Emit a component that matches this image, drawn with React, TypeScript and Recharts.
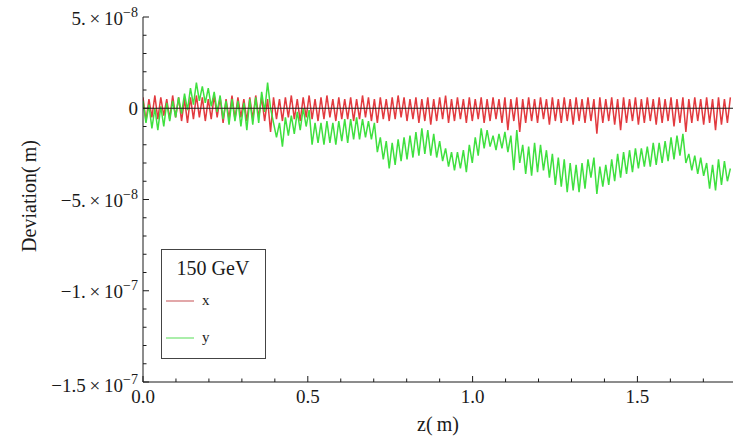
import { Legend, Line, LineChart, ReferenceLine, XAxis, YAxis } from "recharts";

// sampling step along z (m); values alternate crest / trough
const Z_STEP = 0.009;

// transverse deviation in x, units of 1e-9 m
const DEV_X = [
  6, -7, 5, -5, 7, -6, 6, -4, 5, -6,
  7, -5, 6, -7, 5, -8, 6, -6, 7, -5,
  6, -7, 5, -6, 7, -5, 6, -8, 5, -6,
  7, -6, 6, -5, 5, -7, 6, -6, 7, -5,
  6, -7, 5, -13, 6, -6, 5, -7, 6, -5,
  7, -6, 5, -7, 6, -5, 7, -6, 5, -7,
  6, -6, 7, -5, 5, -7, 6, -6, 5, -6,
  6, -7, 5, -6, 7, -5, 6, -7, 5, -8,
  6, -6, 5, -7, 6, -6, 7, -5, 6, -7,
  5, -6, 6, -8, 5, -7, 6, -9, 5, -7,
  6, -6, 7, -8, 5, -7, 6, -6, 5, -8,
  6, -7, 5, -6, 6, -8, 5, -7, 6, -6,
  5, -8, 6, -12, 5, -7, 6, -13, 5, -8,
  6, -7, 5, -8, 6, -6, 5, -9, 6, -7,
  5, -8, 6, -7, 5, -9, 6, -7, 5, -8,
  6, -7, 5, -14, 6, -8, 5, -7, 6, -9,
  5, -12, 6, -8, 5, -7, 6, -9, 5, -8,
  6, -7, 5, -9, 6, -8, 5, -7, 6, -10,
  5, -8, 6, -13, 5, -8, 6, -7, 5, -9,
  6, -8, 5, -12, 6, -9, 5, -8, 6,
];

// transverse deviation in y, units of 1e-9 m
const DEV_Y = [
  4, -8, 2, -11, 0, -12, 1, -10, 3, -7,
  4, -5, 6, -3, 8, -1, 11, 2, 14, 4,
  12, 3, 11, 1, 9, -2, 7, -6, 4, -9,
  5, -7, 4, -10, 3, -12, 5, -9, 6, -8,
  9, -2, 14, 0, -8, -16, -8, -21, -5, -15,
  -4, -14, -2, -12, 0, -10, -1, -20, -8, -19,
  -8, -20, -7, -19, -8, -20, -7, -18, -6, -19,
  -6, -17, -5, -17, -6, -16, -7, -17, -8, -24,
  -16, -28, -18, -33, -19, -31, -17, -29, -16, -28,
  -15, -27, -13, -26, -11, -25, -12, -26, -14, -27,
  -18, -29, -22, -32, -24, -34, -24, -33, -23, -35,
  -20, -30, -16, -26, -11, -22, -12, -21, -15, -23,
  -14, -22, -13, -24, -15, -34, -12, -30, -20, -36,
  -21, -37, -19, -35, -20, -34, -23, -38, -25, -42,
  -27, -43, -28, -46, -30, -45, -31, -46, -30, -44,
  -28, -38, -27, -47, -32, -43, -31, -42, -28, -40,
  -25, -38, -24, -36, -23, -35, -22, -33, -22, -32,
  -21, -32, -19, -31, -19, -30, -18, -29, -16, -28,
  -15, -26, -14, -30, -25, -34, -26, -36, -27, -37,
  -30, -44, -31, -45, -28, -42, -29, -40, -33,
];

const Z_TICKS = [0, 0.1, 0.2, 0.3, 0.4, 0.5, 0.6, 0.7, 0.8, 0.9, 1.0, 1.1, 1.2, 1.3, 1.4, 1.5, 1.6, 1.7];
const Z_LABELS: Record<number, string> = { 0: "0.0", 5: "0.5", 10: "1.0", 15: "1.5" };

// tick positions in units of 1e-9 m
const DEV_TICKS = [-150, -140, -130, -120, -110, -100, -90, -80, -70, -60, -50, -40, -30, -20, -10, 0, 10, 20, 30, 40, 50];
// [mantissa, exponent, baseline shift]
const DEV_LABELS: Record<number, [string, string, number]> = {
  50: ["5.\u2009\u00d7\u200910", "\u22128", 8],
  0: ["0", "", 7],
  [-50]: ["\u22125.\u2009\u00d7\u200910", "\u22128", 7],
  [-100]: ["\u22121.\u2009\u00d7\u200910", "\u22127", 7],
  [-150]: ["\u22121.5\u2009\u00d7\u200910", "\u22127", 10],
};

const SERIES = [
  { key: "x", stroke: "#e23a3f", swatch: "#d98a8c" },
  { key: "y", stroke: "#3fe03f", swatch: "#8ee88e" },
];

const data = DEV_X.map((v, i) => ({
  z: Number((i * Z_STEP).toFixed(3)),
  x: v * 1e-9,
  y: DEV_Y[i] * 1e-9,
}));

const FONT = "'Liberation Serif', 'Times New Roman', serif";
const INK = "#1a1a1a";

function BottomTick({ x, y, payload }: any) {
  const idx = Math.round(payload.value * 10);
  const label = Z_LABELS[idx];
  const len = label ? 6 : 3.5;
  return (
    <g>
      <line x1={x} x2={x} y1={y} y2={y - len} stroke={INK} />
      {label && (
        <text x={x} y={y + 21} textAnchor="middle" fontFamily={FONT} fontSize={19} fill={INK}>
          {label}
        </text>
      )}
    </g>
  );
}

function TopTick({ x, y, payload }: any) {
  const major = Z_LABELS[Math.round(payload.value * 10)] !== undefined;
  return <line x1={x} x2={x} y1={y} y2={y + (major ? 6 : 3.5)} stroke={INK} />;
}

function LeftTick({ x, y, payload }: any) {
  const nm = Math.round(payload.value * 1e9);
  const label = DEV_LABELS[nm];
  const len = label ? 6 : 3.5;
  return (
    <g>
      <line x1={x} x2={x + len} y1={y} y2={y} stroke={INK} />
      {label && (
        <text x={x - 5} y={y + label[2]} textAnchor="end" fontFamily={FONT} fontSize={19} fill={INK}>
          {label[0]}
          {label[1] && (
            <tspan dy={-8} fontSize={14}>
              {label[1]}
            </tspan>
          )}
        </text>
      )}
    </g>
  );
}

function RightTick({ x, y, payload }: any) {
  const major = DEV_LABELS[Math.round(payload.value * 1e9)] !== undefined;
  return <line x1={x} x2={x - (major ? 6 : 3.5)} y1={y} y2={y} stroke={INK} />;
}

function DeviationLabel() {
  const cx = 29;
  const cy = 196;
  return (
    <text
      x={cx}
      y={cy}
      transform={`rotate(-90 ${cx} ${cy})`}
      textAnchor="middle"
      dominantBaseline="central"
      fontFamily={FONT}
      fontSize={20}
      fill={INK}
    >
      Deviation(&#8201;m)
    </text>
  );
}

function EnergyLegend() {
  return (
    <svg width={105} height={110} style={{ display: "block" }}>
      <rect x={0.5} y={0.5} width={104} height={109} fill="#fff" stroke="#444" />
      <text x={52} y={26} textAnchor="middle" fontFamily={FONT} fontSize={20} fill={INK}>
        150 GeV
      </text>
      {SERIES.map((s, i) => (
        <g key={s.key}>
          <line x1={5} x2={33} y1={52 + i * 37} y2={52 + i * 37} stroke={s.swatch} strokeWidth={1.5} />
          <text x={41} y={56 + i * 37} fontFamily={FONT} fontSize={15} fill={INK}>
            {s.key}
          </text>
        </g>
      ))}
    </svg>
  );
}

export default function App() {
  return (
    <div style={{ position: "absolute", left: 0, top: 0, background: "#fff" }}>
      <LineChart width={735} height={436} data={data} margin={{ top: 17, right: 2, bottom: 0, left: 0 }}>
        <XAxis
          dataKey="z"
          type="number"
          domain={[0, 1.79]}
          ticks={Z_TICKS}
          allowDataOverflow
          height={54}
          tickSize={0}
          tickMargin={0}
          tickLine={false}
          axisLine={{ stroke: INK }}
          tick={<BottomTick />}
          interval={0}
          label={{ value: "z(\u2009m)", position: "insideBottom", offset: 5, fontFamily: FONT, fontSize: 20, fill: INK }}
        />
        <XAxis
          xAxisId="top"
          orientation="top"
          dataKey="z"
          type="number"
          domain={[0, 1.79]}
          ticks={Z_TICKS}
          allowDataOverflow
          height={0}
          tickSize={0}
          tickMargin={0}
          tickLine={false}
          axisLine={{ stroke: INK }}
          tick={<TopTick />}
          interval={0}
        />
        <YAxis
          type="number"
          domain={[-1.5e-7, 5e-8]}
          ticks={DEV_TICKS.map((v) => v * 1e-9)}
          allowDataOverflow
          width={143}
          tickSize={0}
          tickMargin={0}
          tickLine={false}
          axisLine={{ stroke: INK }}
          tick={<LeftTick />}
          interval={0}
          label={{ content: <DeviationLabel /> }}
        />
        <YAxis
          yAxisId="right"
          orientation="right"
          type="number"
          domain={[-1.5e-7, 5e-8]}
          ticks={DEV_TICKS.map((v) => v * 1e-9)}
          allowDataOverflow
          width={0}
          tickSize={0}
          tickMargin={0}
          tickLine={false}
          axisLine={{ stroke: INK }}
          tick={<RightTick />}
          interval={0}
        />
        {SERIES.map((s) => (
          <Line
            key={s.key}
            dataKey={s.key}
            type="linear"
            stroke={s.stroke}
            strokeWidth={1.5}
            dot={false}
            activeDot={false}
            isAnimationActive={false}
          />
        ))}
        <ReferenceLine y={0} stroke={INK} strokeWidth={1} />
        <Legend
          layout="vertical"
          align="center"
          verticalAlign="middle"
          wrapperStyle={{ left: 161, top: 249, width: 105, height: 110 }}
          content={<EnergyLegend />}
        />
      </LineChart>
    </div>
  );
}
